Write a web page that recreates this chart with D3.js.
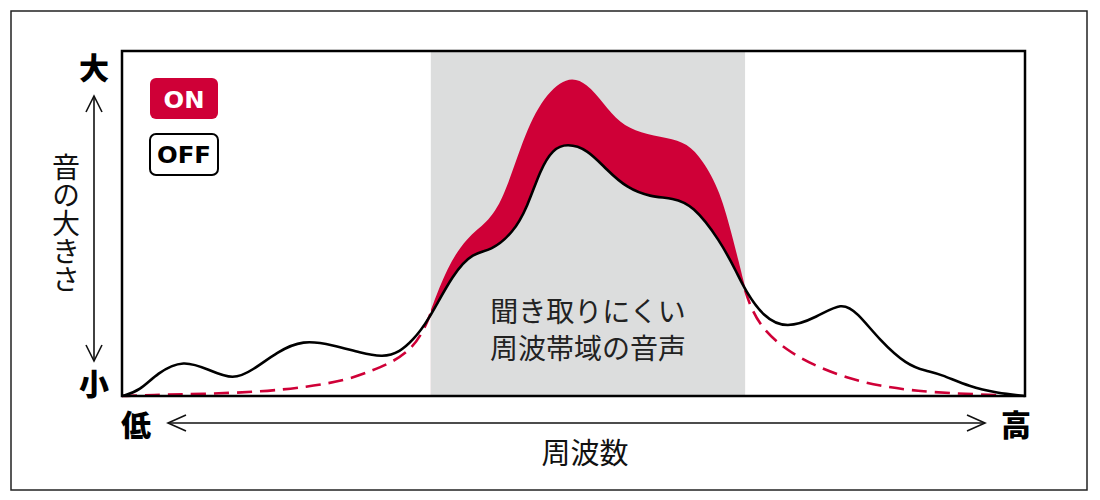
<!DOCTYPE html>
<html><head><meta charset="utf-8">
<script src="https://cdn.jsdelivr.net/npm/d3@7"></script>
<style>
html,body{margin:0;padding:0;background:#fff;}
svg{display:block;}
</style>
</head><body>
<svg id="c" width="1100" height="500"></svg>
<script>
// ---- data (frequency 0..100, level 0..100) ----
const offFreq  = [0, 2.0, 3.9, 6.8, 9.7, 12.3, 14.5, 17.2, 20.0, 23.4, 26.4, 28.9, 30.8, 32.2, 33.8, 36.7, 38.9, 40.8, 43.3, 44.9, 46.3, 47.7, 49.3, 51.5, 53.7, 55.9, 58.5, 61.0, 63.2, 66.2, 68.1, 69.0, 71.0, 73.6, 77.0, 79.7, 81.4, 83.9, 86.9, 89.1, 90.6, 93.9, 96.9, 100];
const offLevel = [0, 1.5, 6.7, 10.6, 7.5, 4.6, 7.5, 12.8, 16.3, 14.8, 12.5, 11.2, 12.8, 16.2, 21.2, 35.7, 41.6, 42.0, 47.2, 54.8, 65.5, 71.6, 73.2, 71.6, 65.5, 60.3, 57.7, 57.4, 55.4, 45.2, 35.7, 30.7, 22.9, 19.4, 22.9, 27.2, 24.3, 16.2, 9.0, 7.2, 6.4, 2.6, 0.9, 0];

// ON curve outside the hard-to-hear band (dashed)
const onLowFreq   = [0, 3.1, 9.0, 15.3, 20.5, 24.9, 27.8, 30.0, 31.9, 33.3, 34.2];
const onLowLevel  = [0, 0.3, 0.6, 1.2, 2.6, 4.6, 7.5, 9.9, 13.3, 18.3, 24.1];
const onHighFreq  = [69.0, 69.6, 71.0, 73.6, 76.5, 80.3, 83.9, 88.0, 93.1, 100];
const onHighLevel = [30.7, 25.8, 19.1, 13.3, 9.0, 5.2, 2.9, 1.4, 0.6, 0];
// ON curve inside the band (filled)
const onBandFreq  = [34.2, 36.0, 38.2, 40.4, 42.2, 44.1, 46.3, 49.3, 51.5, 53.3, 55.1, 57.4, 60.4, 62.6, 64.3, 66.2, 67.7, 69.0];
const onBandLevel = [24.9, 37.4, 46.1, 50.1, 56.8, 72.2, 85.8, 93.0, 90.6, 84.9, 79.1, 76.2, 74.8, 73.3, 68.4, 59.7, 45.2, 31.6];

const band = [34.2, 69.0];
const legendLabels = ["ON", "OFF"];
const yLabels = ["大", "小"];
const xLabels = ["低", "高"];
const yTitle = "音の大きさ";
const xTitle = "周波数";
const bandLabel = ["聞き取りにくい", "周波帯域の音声"];

// ---- drawing ----
const RED = "#cf0037", GRAY = "#dcdddd";
const svg = d3.select("#c");
const x = d3.scaleLinear().domain([0, 100]).range([122, 1025]);
const y = d3.scaleLinear().domain([0, 100]).range([396, 51]);
const curve = d3.curveBasis;
const zip = (a, b) => a.map((v, i) => [v, b[i]]);
const line = d3.line().x(d => x(d[0])).y(d => y(d[1])).curve(curve);
const area = d3.area().x(d => x(d[0])).y0(y(0)).y1(d => y(d[1])).curve(curve);

const offPts = zip(offFreq, offLevel);

// outer frame
svg.append("rect").attr("x", 11).attr("y", 11).attr("width", 1076).attr("height", 479)
  .attr("fill", "none").attr("stroke", "#222").attr("stroke-width", 1.5);

// clip for band
svg.append("defs").append("clipPath").attr("id", "bandclip")
  .append("rect").attr("x", x(band[0])).attr("y", y(100)).attr("width", x(band[1]) - x(band[0])).attr("height", y(0) - y(100));

// gray band
svg.append("rect").attr("x", x(band[0])).attr("y", y(100))
  .attr("width", x(band[1]) - x(band[0])).attr("height", y(0) - y(100)).attr("fill", GRAY);

// red fill (ON above OFF) inside band
svg.append("path").datum(zip(onBandFreq, onBandLevel)).attr("d", area)
  .attr("fill", RED).attr("clip-path", "url(#bandclip)");
svg.append("path").datum(offPts).attr("d", area)
  .attr("fill", GRAY).attr("clip-path", "url(#bandclip)");

// band label
const bl = svg.append("text").attr("text-anchor", "middle")
  .attr("font-family", "'Noto Sans CJK JP', sans-serif").attr("font-size", 28).attr("fill", "#222");
bandLabel.forEach((t, i) => {
  bl.append("tspan").attr("x", 588).attr("y", 322 + i * 37).text(t);
});

// dashed ON outside band
[zip(onLowFreq, onLowLevel), zip(onHighFreq, onHighLevel)].forEach(pts => {
  svg.append("path").datum(pts).attr("d", line).attr("fill", "none")
    .attr("stroke", RED).attr("stroke-width", 2.6).attr("stroke-dasharray", "15,8");
});

// OFF line
svg.append("path").datum(offPts).attr("d", line).attr("fill", "none")
  .attr("stroke", "#000").attr("stroke-width", 2.6).attr("stroke-linejoin", "round");

// plot box
svg.append("rect").attr("x", x(0)).attr("y", y(100)).attr("width", x(100) - x(0)).attr("height", y(0) - y(100))
  .attr("fill", "none").attr("stroke", "#000").attr("stroke-width", 2.5);

// legend
const lg = svg.append("g");
lg.append("rect").attr("x", 150).attr("y", 78).attr("width", 68).attr("height", 41).attr("rx", 6).attr("fill", RED);
lg.append("text").attr("x", 184).attr("y", 108).attr("text-anchor", "middle")
  .attr("font-family", "'DejaVu Sans', sans-serif").attr("font-weight", "bold").attr("font-size", 23)
  .attr("textLength", 41).attr("lengthAdjust", "spacingAndGlyphs")
  .attr("fill", "#fff").text(legendLabels[0]);
lg.append("rect").attr("x", 150).attr("y", 134).attr("width", 68).attr("height", 41).attr("rx", 6)
  .attr("fill", "#fff").attr("stroke", "#000").attr("stroke-width", 2);
lg.append("text").attr("x", 184).attr("y", 163).attr("text-anchor", "middle")
  .attr("font-family", "'DejaVu Sans', sans-serif").attr("font-weight", "bold").attr("font-size", 23)
  .attr("textLength", 54).attr("lengthAdjust", "spacingAndGlyphs")
  .attr("fill", "#000").text(legendLabels[1]);

// axis arrows
const ax = svg.append("g").attr("stroke", "#111").attr("stroke-width", 1.6).attr("fill", "none");
ax.append("line").attr("x1", 94).attr("y1", 96).attr("x2", 94).attr("y2", 361);
ax.append("polyline").attr("points", "86,112 94,96 102,112");
ax.append("polyline").attr("points", "86,345 94,361 102,345");
ax.append("line").attr("x1", 168).attr("y1", 423).attr("x2", 985).attr("y2", 423);
ax.append("polyline").attr("points", "186,415 168,423 186,431");
ax.append("polyline").attr("points", "967,415 985,423 967,431");

// bold end labels
const bold = (t, cx, cy) => svg.append("text").attr("x", cx).attr("y", cy)
  .attr("text-anchor", "middle").attr("dominant-baseline", "central")
  .attr("font-family", "'Noto Sans CJK JP', sans-serif").attr("font-weight", 900)
  .attr("font-size", 30).attr("fill", "#000").text(t);
bold(yLabels[0], 94, 66);
bold(yLabels[1], 94, 382);
bold(xLabels[0], 136, 423);
bold(xLabels[1], 1016, 423);

// y title (vertical, upright)
svg.append("text").attr("x", 66).attr("y", 153)
  .attr("style", "writing-mode: vertical-rl; text-orientation: upright;")
  .attr("font-family", "'Noto Sans CJK JP', sans-serif")
  .attr("font-size", 28).attr("fill", "#111").text(yTitle);

// x title
svg.append("text").attr("x", 585).attr("y", 451).attr("text-anchor", "middle")
  .attr("dominant-baseline", "central").attr("font-family", "'Noto Sans CJK JP', sans-serif")
  .attr("font-size", 29).attr("fill", "#111").text(xTitle);
</script>
</body></html>
